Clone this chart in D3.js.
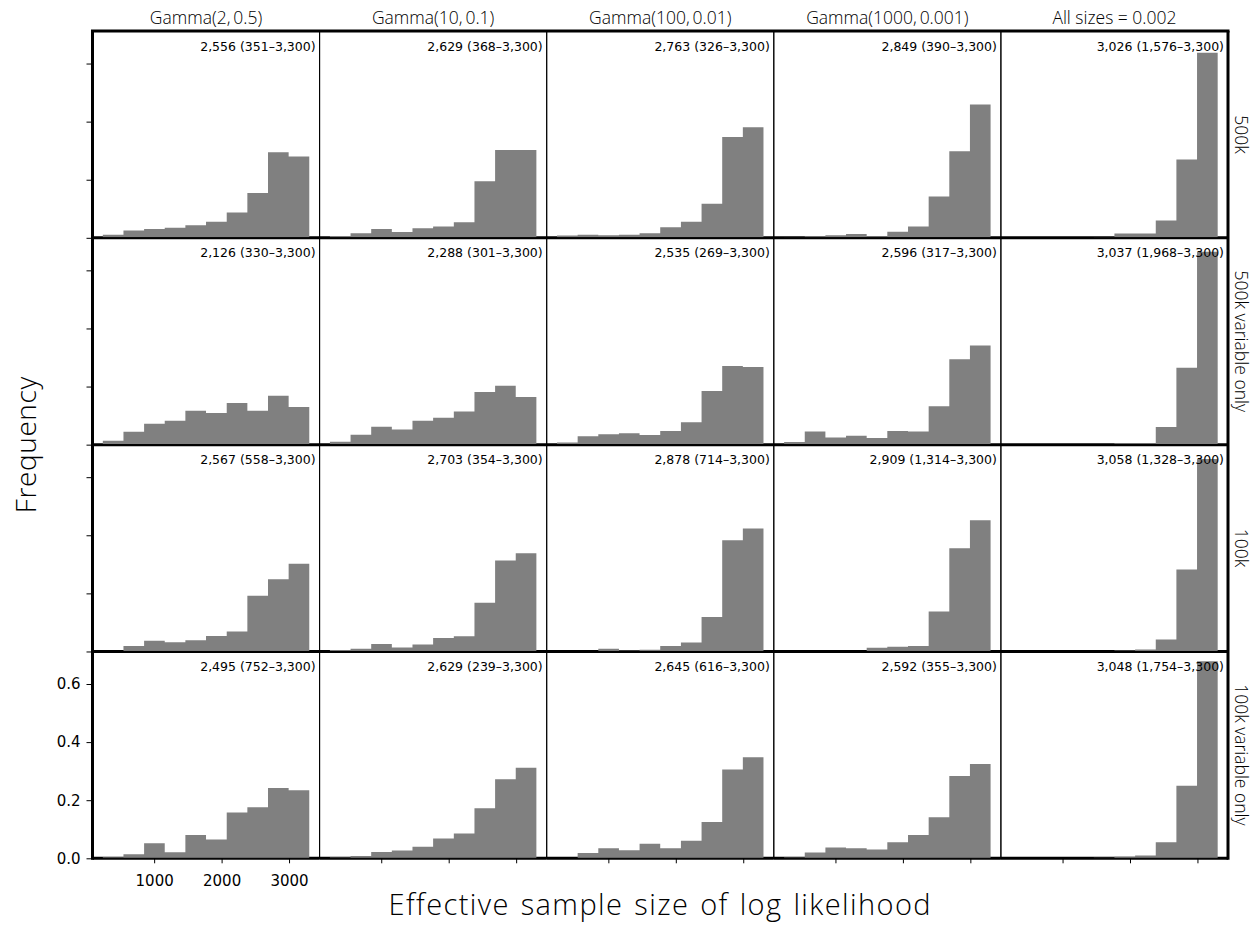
<!DOCTYPE html>
<html>
<head>
<meta charset="utf-8">
<script src="https://cdn.jsdelivr.net/npm/d3@7"></script>
<style>
  body { margin: 0; background: #fff; }
  svg text { fill: #000; }
</style>
</head>
<body>
<svg id="chart" width="1255" height="930"></svg>
<script>
// Prior settings (columns) and data sets (rows)
const colTitles = ["Gamma(2,\u20090.5)", "Gamma(10,\u20090.1)", "Gamma(100,\u20090.01)", "Gamma(1000,\u20090.001)", "All sizes = 0.002"];
const rowTitles = ["500k", "500k variable only", "100k", "100k variable only"];

// Shared histogram bin edges (ESS)
const binEdges = [239, 545, 851, 1157, 1463, 1769, 2076, 2382, 2688, 2994, 3300];

// Relative frequency per bin, one array per prior setting
const freq500k = [
  [0.011, 0.025, 0.030, 0.035, 0.043, 0.055, 0.087, 0.154, 0.295, 0.280],
  [0.006, 0.016, 0.030, 0.020, 0.033, 0.039, 0.054, 0.195, 0.302, 0.302],
  [0.008, 0.011, 0.009, 0.011, 0.016, 0.036, 0.055, 0.117, 0.347, 0.381],
  [0.002, 0.005, 0.009, 0.013, 0.005, 0.021, 0.039, 0.142, 0.298, 0.459],
  [0, 0, 0, 0, 0.003, 0.015, 0.015, 0.060, 0.270, 0.637]
];
const freq500kVar = [
  [0.013, 0.044, 0.072, 0.082, 0.117, 0.109, 0.143, 0.117, 0.168, 0.130],
  [0.010, 0.034, 0.062, 0.052, 0.082, 0.093, 0.114, 0.181, 0.203, 0.164],
  [0.007, 0.029, 0.036, 0.039, 0.033, 0.047, 0.077, 0.185, 0.271, 0.267],
  [0.009, 0.045, 0.025, 0.031, 0.023, 0.047, 0.045, 0.132, 0.294, 0.341],
  [0, 0, 0, 0, 0, 0.005, 0.005, 0.061, 0.265, 0.664]
];
const freq100k = [
  [0, 0.019, 0.037, 0.032, 0.039, 0.053, 0.069, 0.192, 0.249, 0.302],
  [0.005, 0.009, 0.026, 0.014, 0.024, 0.046, 0.052, 0.168, 0.313, 0.338],
  [0, 0.002, 0.009, 0.003, 0.006, 0.019, 0.031, 0.119, 0.383, 0.423],
  [0, 0, 0, 0.001, 0.013, 0.016, 0.019, 0.138, 0.355, 0.452],
  [0, 0, 0, 0.002, 0.002, 0.003, 0.007, 0.041, 0.282, 0.663]
];
const freq100kVar = [
  [0.004, 0.014, 0.052, 0.021, 0.080, 0.065, 0.158, 0.176, 0.242, 0.234],
  [0.003, 0.008, 0.022, 0.027, 0.040, 0.068, 0.085, 0.172, 0.272, 0.312],
  [0, 0.018, 0.035, 0.028, 0.050, 0.035, 0.060, 0.125, 0.306, 0.348],
  [0.003, 0.020, 0.037, 0.035, 0.030, 0.055, 0.080, 0.141, 0.283, 0.325],
  [0, 0, 0, 0, 0.002, 0.005, 0.010, 0.055, 0.250, 0.678]
];

// Median ESS (min–max) per panel
const summary500k    = ["2,556 (351\u20133,300)", "2,629 (368\u20133,300)", "2,763 (326\u20133,300)", "2,849 (390\u20133,300)", "3,026 (1,576\u20133,300)"];
const summary500kVar = ["2,126 (330\u20133,300)", "2,288 (301\u20133,300)", "2,535 (269\u20133,300)", "2,596 (317\u20133,300)", "3,037 (1,968\u20133,300)"];
const summary100k    = ["2,567 (558\u20133,300)", "2,703 (354\u20133,300)", "2,878 (714\u20133,300)", "2,909 (1,314\u20133,300)", "3,058 (1,328\u20133,300)"];
const summary100kVar = ["2,495 (752\u20133,300)", "2,629 (239\u20133,300)", "2,645 (616\u20133,300)", "2,592 (355\u20133,300)", "3,048 (1,754\u20133,300)"];

const yTicks = [0, 0.2, 0.4, 0.6];
const xTicks = [1000, 2000, 3000];

const freqRows = [freq500k, freq500kVar, freq100k, freq100kVar];
const summaryRows = [summary500k, summary500kVar, summary100k, summary100kVar];

// Layout
const L = 92.5, R = 1228, T = 31, B = 858.3;
const nCols = colTitles.length, nRows = rowTitles.length;
const cw = (R - L) / nCols, rh = (B - T) / nRows;

const x = d3.scaleLinear().domain([86, 3453]).range([0, cw]);
const y = d3.scaleLinear().domain([0, 0.712]).range([rh, 0]);

const svg = d3.select("#chart");
const tickFont = "'DejaVu Sans', sans-serif";
const labelFont = "'Open Sans', Lato, sans-serif";

// Histogram outline as one filled step shape (no seams between bins)
function histPath(vals) {
  const p = d3.path();
  p.moveTo(x(binEdges[0]), y(0));
  vals.forEach((v, i) => {
    p.lineTo(x(binEdges[i]), y(v));
    p.lineTo(x(binEdges[i + 1]), y(v));
  });
  p.lineTo(x(binEdges[binEdges.length - 1]), y(0));
  p.closePath();
  return p.toString();
}

freqRows.forEach((rowData, r) => {
  rowData.forEach((vals, c) => {
    const g = svg.append("g").attr("transform", `translate(${L + c * cw},${T + r * rh})`);

    // heavy baseline under the bars
    g.append("line")
      .attr("x1", 0).attr("x2", cw)
      .attr("y1", rh).attr("y2", rh)
      .attr("stroke", "#000").attr("stroke-width", 3);

    g.append("path")
      .attr("class", "hist")
      .attr("d", histPath(vals))
      .attr("fill", "#808080");

    // panel frame
    g.append("rect")
      .attr("x", 0).attr("y", 0).attr("width", cw).attr("height", rh)
      .attr("fill", "none").attr("stroke", "#000").attr("stroke-width", 1);

    g.append("text")
      .attr("x", cw - 4).attr("y", 19.5)
      .attr("text-anchor", "end")
      .attr("font-family", tickFont).attr("font-size", 12.5)
      .text(summaryRows[r][c]);
  });

  // y axis for the row
  const yAxis = d3.axisLeft(y).tickValues(yTicks).tickSize(6).tickPadding(6)
    .tickFormat(r === nRows - 1 ? d3.format(".1f") : () => "");
  const ga = svg.append("g").attr("transform", `translate(${L},${T + r * rh})`).call(yAxis);
  ga.select(".domain").remove();
  ga.selectAll(".tick line").attr("stroke", "#000").attr("stroke-width", 1);
  ga.selectAll("text").attr("font-family", tickFont).attr("font-size", 15).attr("fill", "#000");

  // row label on the right
  const cy = T + r * rh + rh / 2;
  svg.append("text")
    .attr("transform", `translate(1235,${cy}) rotate(90)`)
    .attr("text-anchor", "middle")
    .attr("font-family", labelFont).attr("font-weight", 300).attr("font-size", 17.5)
    .text(rowTitles[r]);
});

// x axes along the bottom row
for (let c = 0; c < nCols; c++) {
  const xAxis = d3.axisBottom(x).tickValues(xTicks).tickSize(5).tickPadding(12)
    .tickFormat(c === 0 ? d3.format("d") : () => "");
  const ga = svg.append("g").attr("transform", `translate(${L + c * cw},${B})`).call(xAxis);
  ga.select(".domain").remove();
  ga.selectAll(".tick line").attr("stroke", "#000");
  ga.selectAll("text").attr("font-family", tickFont).attr("font-size", 15).attr("fill", "#000");
}

// heavy outer frame: top, left, right
svg.append("line").attr("x1", L - 1.5).attr("x2", R + 1.5).attr("y1", T).attr("y2", T)
  .attr("stroke", "#000").attr("stroke-width", 3);
svg.append("line").attr("x1", L).attr("x2", L).attr("y1", T).attr("y2", B + 1.5)
  .attr("stroke", "#000").attr("stroke-width", 3);
svg.append("line").attr("x1", R).attr("x2", R).attr("y1", T).attr("y2", B + 1.5)
  .attr("stroke", "#000").attr("stroke-width", 3);

// column titles
colTitles.forEach((t, c) => {
  svg.append("text")
    .attr("x", L + c * cw + cw / 2).attr("y", 24)
    .attr("text-anchor", "middle")
    .attr("font-family", labelFont).attr("font-weight", 300).attr("font-size", 17.5)
    .text(t);
});

// axis titles
svg.append("text")
  .attr("transform", `translate(36,${(T + B) / 2}) rotate(-90)`)
  .attr("text-anchor", "middle")
  .attr("font-family", labelFont).attr("font-weight", 300).attr("font-size", 28)
  .attr("letter-spacing", 0.6)
  .text("Frequency");

svg.append("text")
  .attr("x", (L + R) / 2).attr("y", 915)
  .attr("text-anchor", "middle")
  .attr("font-family", labelFont).attr("font-weight", 300).attr("font-size", 29)
  .attr("letter-spacing", 1.4).attr("word-spacing", 2)
  .text("Effective sample size of log likelihood");
</script>
</body>
</html>
